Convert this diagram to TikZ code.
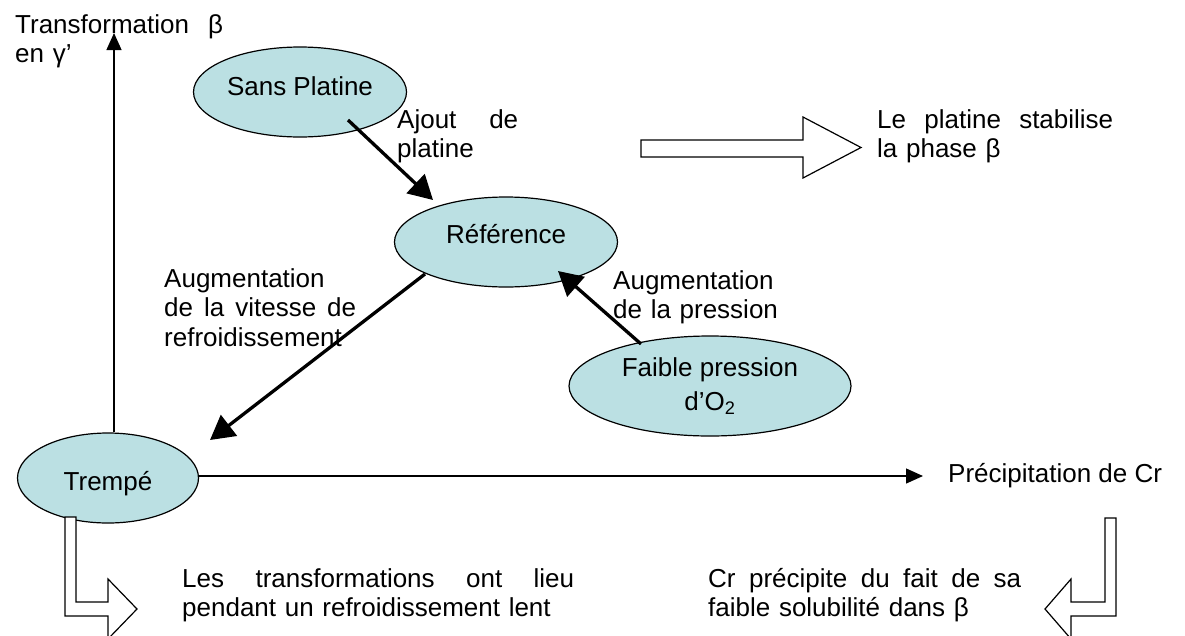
\documentclass[tikz,border=0pt]{standalone}
\usepackage{fontspec}
\setmainfont{Liberation Sans}
\usetikzlibrary{arrows.meta, shapes.geometric}
\definecolor{phasecyan}{RGB}{187, 224, 227}

\begin{document}
\begin{tikzpicture}[x=1pt, y=-1pt, font=\fontsize{26}{29.5}\selectfont,
    phase/.style={ellipse, draw, fill=phasecyan, line width=1.2pt, inner sep=0pt},
    axis/.style={line width=1.3pt, -{Triangle[length=17pt, width=15pt]}},
    effect/.style={line width=3.3pt, -{Triangle[length=24pt, width=26pt]}},
    hollow/.style={draw, fill=white, line width=1.2pt, line join=miter},
    note/.style={anchor=north west, inner sep=0pt, align=left}]
    \useasboundingbox (0,0) rectangle (1185,635);

    % 1. States (ellipses)
    \node[phase, minimum width=213pt, minimum height=90pt, text depth=12pt] (sans) at (300,92) {Sans Platine};
    \node[phase, minimum width=223pt, minimum height=90pt, text depth=16pt] (ref) at (506,242) {Référence};
    \node[phase, minimum width=282pt, minimum height=100pt, align=center] (faible) at (710,386)
        {Faible pression\\[4pt]d’O\textsubscript{2}};
    \node[phase, minimum width=181pt, minimum height=90pt, text height=31pt] (trempe) at (108,478) {Trempé};

    % 2. Axes
    \coordinate (ytip) at (114,33);
    \coordinate (xtip) at (923,476);
    \draw[axis] (ytip |- trempe.north) -- (ytip);
    \draw[axis] (trempe.east |- xtip) -- (xtip);

    % Axis labels
    \node[note, text width=208pt] (ylabel) at (15,14) {Transformation\hfill β\\en γ’};
    \node[anchor=west, inner sep=0pt] (xlabel) at (948,476) {Précipitation de Cr};

    % 3. Effects between states
    \draw[effect] ([shift={(48,28)}]sans.center) -- ([shift={(-73,-42)}]ref.center);
    \draw[effect] ([shift={(-81,32)}]ref.center) -- ([shift={(102,-38)}]trempe.center);
    \draw[effect] ([shift={(-69,-42)}]faible.center) -- ([shift={(52,29)}]ref.center);

    % Effect labels
    \node[note, text width=121pt] (ajout) at (397,109) {Ajout\hfill de\\platine};
    \node[note, text width=192pt] (vitesse) at (164,268)
        {Augmentation\\de\hfill la\hfill vitesse\hfill de\\refroidissement};
    \node[note, text width=170pt] (pression) at (613,270) {Augmentation\\de la pression};

    % 4. Block arrows to the remarks
    \draw[hollow] (641,140) -- (803,140) -- (803,117) -- (861,147.5) -- (803,178)
        -- (803,157) -- (641,157) -- cycle;
    \draw[hollow] (65,517) -- (76,517) -- (76,602) -- (108,602) -- (108,579) -- (137,609)
        -- (108,639) -- (108,616) -- (65,616) -- cycle;
    \draw[hollow] (1116,518) -- (1105,518) -- (1105,602) -- (1071,602) -- (1071,579)
        -- (1045,609) -- (1071,639) -- (1071,616) -- (1116,616) -- cycle;

    % Remarks
    \node[note, text width=236pt] (stab) at (877,109) {Le\hfill platine\hfill stabilise\\la phase β};
    \node[note, text width=392pt] (lent) at (182,568)
        {Les\hfill transformations\hfill ont\hfill lieu\\pendant un refroidissement lent};
    \node[note, text width=313pt] (soluble) at (708,568)
        {Cr\hfill précipite\hfill du\hfill fait\hfill de\hfill sa\\faible solubilité dans β};
\end{tikzpicture}
\end{document}
